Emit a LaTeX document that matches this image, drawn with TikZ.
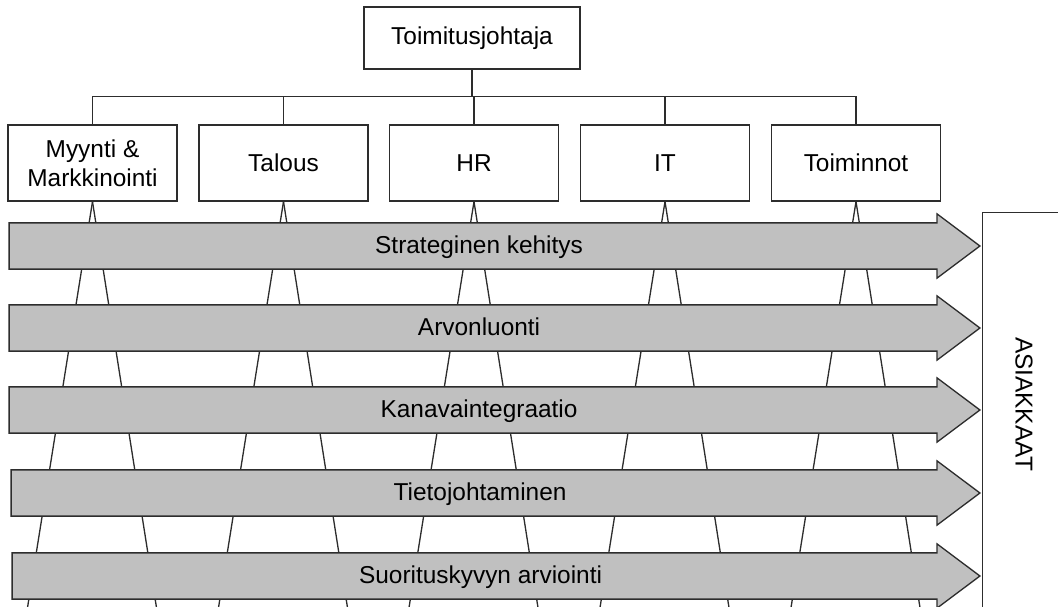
\documentclass[tikz,border=0pt]{standalone}
\usepackage{fontspec}
\setmainfont{Liberation Sans}
\usetikzlibrary{shapes.arrows}
\definecolor{flowgray}{RGB}{192,192,192}
\definecolor{linegray}{RGB}{45,45,45}
\tikzset{
  ceo/.style    ={draw=linegray,line width=0.75pt,fill=white,minimum width=4.32cm,minimum height=1.24cm},
  unit/.style   ={draw=linegray,line width=0.75pt,fill=white,align=center,minimum width=3.38cm,minimum height=1.52cm},
  plainunit/.style={unit,text height=0.5cm,text depth=0.14cm},
  flow/.style   ={single arrow,draw=linegray,line width=0.75pt,fill=flowgray,single arrow head extend=0.18cm,
                  single arrow tip angle=73.7,inner ysep=0pt,text height=0.6cm,text depth=0.3cm,
                  minimum height=19.42cm,anchor=tip},
  client/.style ={draw=linegray,line width=0.75pt,minimum width=1.8cm,minimum height=8.4cm,anchor=north west},
  link/.style   ={draw=linegray,line width=0.75pt},
  spread/.style ={draw=linegray,line width=0.75pt}
}
\begin{document}
\begin{tikzpicture}[x=0.02cm,y=-0.02cm,font=\fontsize{13.9}{16.5}\selectfont]
    \useasboundingbox (0,0) rectangle (1058,607);
    \node[ceo]       (ceo)        at (472,38)   {Toimitusjohtaja};
    \node[unit]      (sales)      at (92.5,163) {Myynti \&\\Markkinointi};
    \node[plainunit] (finance)    at (283.5,163){Talous};
    \node[plainunit] (hr)         at (474,163)  {HR};
    \node[plainunit] (it)         at (665,163)  {IT};
    \node[plainunit] (operations) at (856,163)  {Toiminnot};
    \draw[link] (ceo.south) -- ++(0,27) coordinate (bus) -| (sales.north);
    \draw[link] (bus) -| (finance.north);
    \draw[link] (bus) -| (hr.north);
    \draw[link] (bus) -| (it.north);
    \draw[link] (bus) -| (operations.north);
    % lines spreading down from each unit
    \draw[spread] (sales.south)      -- ++(-65,406);
    \draw[spread] (sales.south)      -- ++(64,406);
    \draw[spread] (finance.south)    -- ++(-65,406);
    \draw[spread] (finance.south)    -- ++(64,406);
    \draw[spread] (hr.south)         -- ++(-65,406);
    \draw[spread] (hr.south)         -- ++(64,406);
    \draw[spread] (it.south)         -- ++(-65,406);
    \draw[spread] (it.south)         -- ++(64,406);
    \draw[spread] (operations.south) -- ++(-65,406);
    \draw[spread] (operations.south) -- ++(64,406);
    \node[client] (customers) at (982,212) {};
    \node[rotate=-90] (customerlabel) at (1024,404) {ASIAKKAAT};
    \node[flow] (strategy)    at (981,246) {Strateginen kehitys};
    \node[flow] (value)       at (981,328) {Arvonluonti};
    \node[flow] (channels)    at (981,410) {Kanavaintegraatio};
    \node[flow,minimum height=19.38cm] (knowledge)   at (981,493) {Tietojohtaminen};
    \node[flow,minimum height=19.36cm] (performance) at (981,576) {Suorituskyvyn arviointi};
  \end{tikzpicture}
\end{document}
